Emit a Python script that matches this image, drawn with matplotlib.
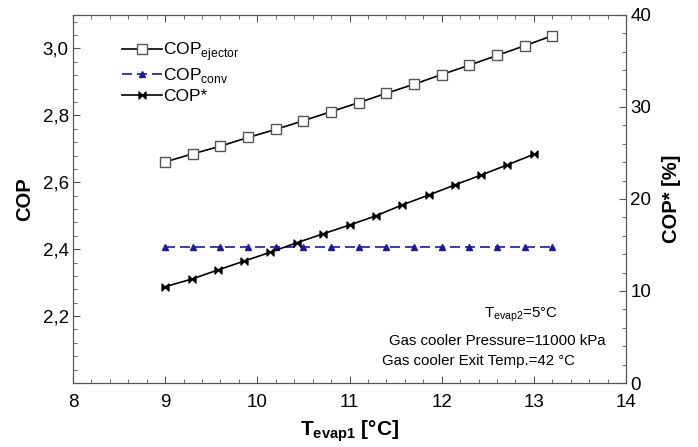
import matplotlib.pyplot as plt
from matplotlib.path import Path
from matplotlib.ticker import MultipleLocator, FuncFormatter

plt.rcParams['font.family'] = ['Liberation Sans', 'DejaVu Sans']

# data
t_evap1 = [9.0, 9.3, 9.6, 9.9, 10.2, 10.5, 10.8, 11.1, 11.4, 11.7, 12.0, 12.3, 12.6, 12.9, 13.2]
cop_ejector = [2.661, 2.685, 2.708, 2.734, 2.758, 2.784, 2.811, 2.838, 2.866, 2.893,
               2.922, 2.950, 2.979, 3.008, 3.038]
cop_conv = [2.407, 2.407, 2.407, 2.407, 2.407, 2.407, 2.407, 2.407, 2.407, 2.407,
            2.407, 2.407, 2.407, 2.407, 2.407]
t_evap1_star = [9.0, 9.29, 9.57, 9.86, 10.14, 10.43, 10.71, 11.0, 11.29, 11.57,
                11.86, 12.14, 12.43, 12.71, 13.0]
cop_star = [10.47, 11.30, 12.28, 13.26, 14.21, 15.25, 16.20, 17.17, 18.18, 19.35,
            20.43, 21.52, 22.61, 23.70, 24.86]

# bowtie marker
bowtie = Path([(-1, -1), (-1, 1), (0, 0), (1, 1), (1, -1), (0, 0), (-1, -1)],
              [Path.MOVETO, Path.LINETO, Path.LINETO, Path.LINETO, Path.LINETO,
               Path.LINETO, Path.CLOSEPOLY])

fig = plt.figure(figsize=(6.98, 4.47), dpi=100)
ax = fig.add_axes([73 / 698, 1 - 383 / 447, (626 - 73) / 698, (383 - 15) / 447])
ax2 = ax.twinx()

l1, = ax.plot(t_evap1, cop_ejector, color='black', lw=1.2, marker='s', ms=6.5,
              mfc='white', mec='#555555', mew=1.0, label='COP$_{\\mathregular{ejector}}$')
l2, = ax.plot(t_evap1, cop_conv, color='#1a1aa6', lw=1.2, ls=(0, (6, 3)), marker='^', ms=5,
              mfc='#1a1aa6', mec='#1a1aa6', label='COP$_{\\mathregular{conv}}$')
l3, = ax2.plot(t_evap1_star, cop_star, color='black', lw=1.2, marker=bowtie, ms=5,
               mfc='black', mec='black', label='COP*')

ax.set_xlim(8, 14)
ax.set_ylim(2.0, 3.1)
ax2.set_ylim(0, 40)

ax.xaxis.set_major_locator(MultipleLocator(1))
ax.xaxis.set_minor_locator(MultipleLocator(0.2))
ax.yaxis.set_major_locator(MultipleLocator(0.2))
ax.yaxis.set_minor_locator(MultipleLocator(0.04))
ax2.yaxis.set_major_locator(MultipleLocator(10))
ax2.yaxis.set_minor_locator(MultipleLocator(2))

ax.yaxis.set_major_formatter(FuncFormatter(
    lambda v, p: '' if v < 2.1 else ('%.1f' % v).replace('.', ',')))

ax.tick_params(axis='both', which='both', direction='in', labelsize=13.5, color='#555555')
ax.tick_params(axis='x', which='both', top=True, pad=8)
ax.tick_params(axis='y', which='both', pad=3)
ax.tick_params(which='major', length=5)
ax.tick_params(which='minor', length=3)
ax2.tick_params(axis='y', which='both', direction='in', labelsize=13.5, color='#555555', pad=3)
ax2.tick_params(which='major', length=5)
ax2.tick_params(which='minor', length=3)

for a in (ax, ax2):
    for s in a.spines.values():
        s.set_color('#555555')

ax.set_xlabel('T$_{\\mathregular{evap1}}$ [°C]', fontsize=15, fontweight='bold', labelpad=5)
ax.set_ylabel('COP', fontsize=14.5, fontweight='bold', labelpad=6)
ax2.set_ylabel('COP* [%]', fontsize=14.5, fontweight='bold', labelpad=8)

ax.legend(handles=[l1, l2, l3], loc='upper left', bbox_to_anchor=(0.06, 0.975),
          frameon=False, fontsize=12.5, handlelength=2.3, handletextpad=0.1,
          labelspacing=0.2)

ax.text(0.81, 0.185, 'T$_{\\mathregular{evap2}}$=5°C', transform=ax.transAxes,
        ha='center', va='center', fontsize=10.8)
ax.text(0.767, 0.114, 'Gas cooler Pressure=11000 kPa', transform=ax.transAxes,
        ha='center', va='center', fontsize=10.8)
ax.text(0.734, 0.060, 'Gas cooler Exit Temp.=42 °C', transform=ax.transAxes,
        ha='center', va='center', fontsize=10.8)

fig.savefig('out.png', dpi=100)
